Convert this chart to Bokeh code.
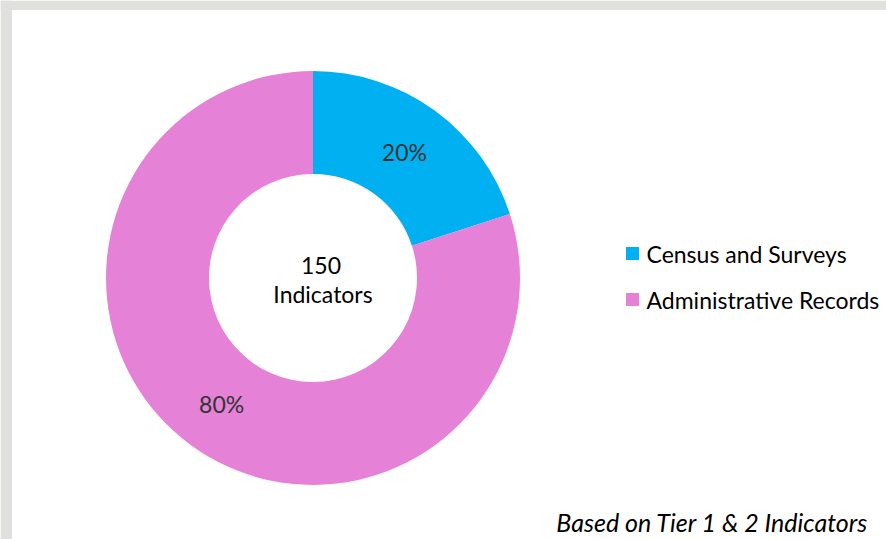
import numpy as np
from bokeh.plotting import figure
from bokeh.models import Range1d
from bokeh.core.properties import value
from bokeh.embed import file_html
from bokeh.resources import INLINE

# ---- data ----
categories = ["Census and Surveys", "Administrative Records"]
shares = [20, 80]
colors = ["#00b0f0", "#e681d8"]
center_lines = ["150", "Indicators"]
footnote = "Based on Tier 1 & 2 Indicators"

W, H = 886, 539
FONT = "Lato"

p = figure(width=W, height=H, output_backend="svg", toolbar_location=None,
           x_range=Range1d(0, W), y_range=Range1d(0, H), min_border=0)
p.axis.visible = False
p.grid.visible = False
p.outline_line_color = None
p.background_fill_color = "white"
p.border_fill_color = "white"

# grey frame strips (top/left) as in the reference
p.quad(left=[0], right=[W], bottom=[H - 9.5], top=[H], color="#e0e0dc", line_color=None)
p.quad(left=[0], right=[11.5], bottom=[0], top=[H], color="#e0e0dc", line_color=None)

cx, cy = 312.5, 261.5
r_out, r_in = 207, 104

vals = np.array(shares, dtype=float)
frac = vals / vals.sum()
ends = np.cumsum(frac)
starts = ends - frac
start_ang = np.pi / 2 - starts * 2 * np.pi
end_ang = np.pi / 2 - ends * 2 * np.pi

p.annular_wedge(x=cx, y=cy, inner_radius=r_in, outer_radius=r_out,
                start_angle=start_ang, end_angle=end_ang, direction="clock",
                fill_color=colors, line_color=None)

mid = (start_ang + end_ang) / 2
r_lab = (r_in + r_out) / 2
lx = cx + r_lab * np.cos(mid)
ly = cy + r_lab * np.sin(mid)
p.text(x=lx, y=ly, text=[f"{v:g}%" for v in vals], text_align="center",
       text_baseline="middle", text_font=value(FONT), text_font_size="23px",
       text_color="#333333")

# centre text
p.text(x=[cx + 8, cx + 10], y=[cy + 13, cy - 16], text=center_lines,
       text_align="center", text_baseline="middle", text_font=value(FONT),
       text_font_size="23px", text_color="#000000")

# legend
leg_y = [286, 240]
p.scatter(x=[632] * len(categories), y=leg_y, marker="square", size=13,
          fill_color=colors, line_color=None)
p.text(x=[646] * len(categories), y=leg_y, text=categories, text_align="left",
       text_baseline="middle", text_font=value(FONT), text_font_size="23px",
       text_color="#000000")

# footnote
p.text(x=[868], y=[18], text=[footnote], text_align="right",
       text_baseline="middle", text_font=value(FONT), text_font_size="25px",
       text_font_style="italic", text_color="#000000")

open("out.html", "w").write(file_html(p, INLINE))
